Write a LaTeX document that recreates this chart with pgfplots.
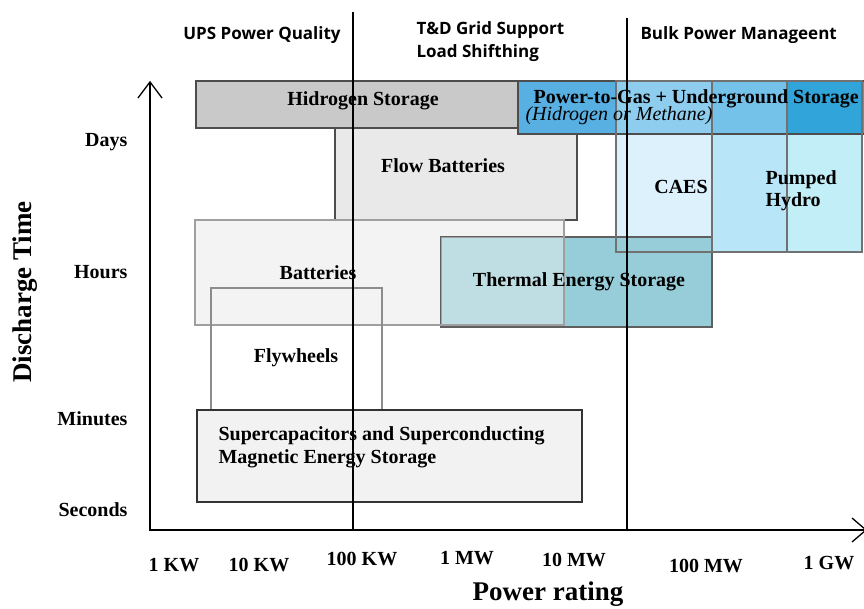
\documentclass[border=0pt]{standalone}
\usepackage{pgfplots}
\pgfplotsset{compat=1.18}
\usepackage{fontspec}
\setmainfont{Liberation Serif}
\newfontfamily\sansf{Open Sans}
\definecolor{hyd}{HTML}{C9C9C9}
\definecolor{flow}{HTML}{E9E9E9}
\definecolor{batt}{HTML}{F3F3F3}
\definecolor{therm}{HTML}{96CDD9}
\definecolor{supc}{HTML}{F2F2F2}
\definecolor{pgA}{HTML}{58AFE1}
\definecolor{pgB}{HTML}{8FCDEF}
\definecolor{pgC}{HTML}{74C1EA}
\definecolor{pgD}{HTML}{31A4D9}
\definecolor{caes}{HTML}{DDF1FC}
\definecolor{caph}{HTML}{B8E6F8}
\definecolor{phyd}{HTML}{C2EEF8}
\definecolor{edge}{HTML}{4D4D4D}
\newcommand{\lblf}{\bfseries\fontsize{20}{22}\selectfont}
\newcommand{\bigf}{\bfseries\fontsize{27}{30}\selectfont}
\newcommand{\topf}{\sansf\bfseries\fontsize{17}{22}\selectfont}
\begin{document}
\begin{tikzpicture}
\begin{axis}[width=864pt,height=609pt,scale only axis,
  xmin=0,xmax=864,ymin=0,ymax=609,y dir=reverse,hide axis,clip=true]
% background (sets the page)
\addplot[fill=white,draw=none] coordinates {(0,0) (864,0) (864,609) (0,609)} --cycle;
% Hydrogen storage
\addplot[fill=hyd,draw=edge,line width=1.2pt] coordinates {(196,81) (518,81) (518,128) (196,128)} --cycle;
% Flow batteries
\addplot[fill=flow,draw=edge,line width=1.2pt] coordinates {(335,128) (577,128) (577,220) (335,220)} --cycle;
% CAES / Pumped hydro (lower parts)
\addplot[fill=caes,draw=none] coordinates {(616,81) (712,81) (712,252) (616,252)} --cycle;
\addplot[fill=caph,draw=none] coordinates {(712,81) (787,81) (787,252) (712,252)} --cycle;
\addplot[fill=phyd,draw=none] coordinates {(787,81) (862,81) (862,252) (787,252)} --cycle;
% Batteries (fill)
\addplot[fill=batt,draw=none] coordinates {(195,220) (564,220) (564,325) (195,325)} --cycle;
% Thermal energy storage
\addplot[fill=therm,draw=edge!90,line width=1.2pt] coordinates {(441,237) (712,237) (712,327) (441,327)} --cycle;
% Batteries over thermal (translucent) and outline
\addplot[fill=batt,fill opacity=0.45,draw=none] coordinates {(441,237) (564,237) (564,325) (441,325)} --cycle;
\addplot[draw=gray!75,line width=1.2pt] coordinates {(195,220) (564,220) (564,325) (195,325)} --cycle;
% Flywheels
\addplot[draw=gray!90,line width=1.2pt] coordinates {(211,288) (382,288) (382,410) (211,410)} --cycle;
% Supercapacitors and SMES
\addplot[fill=supc,draw=black!80,line width=1.3pt] coordinates {(197,410) (582,410) (582,502) (197,502)} --cycle;
% Power-to-Gas
\addplot[fill=pgA,draw=none] coordinates {(518,81) (616,81) (616,134) (518,134)} --cycle;
\addplot[fill=pgB,draw=none] coordinates {(616,81) (712,81) (712,134) (616,134)} --cycle;
\addplot[fill=pgC,draw=none] coordinates {(712,81) (787,81) (787,134) (712,134)} --cycle;
\addplot[fill=pgD,draw=none] coordinates {(787,81) (866,81) (866,134) (787,134)} --cycle;
\addplot[draw=edge,line width=1.2pt] coordinates {(866,81) (518,81) (518,134) (866,134)};
% outlines of CAES and pumped hydro
\addplot[draw=edge!80,line width=1.1pt] coordinates {(616,81) (787,81) (787,252) (616,252)} --cycle;
\addplot[draw=edge!80,line width=1.1pt] coordinates {(712,81) (862,81) (862,252) (712,252)} --cycle;
% dividers
\addplot[black,line width=1.5pt] coordinates {(353,12) (353,530)};
\addplot[black,line width=1.5pt] coordinates {(627,18) (627,530)};
% axes
\addplot[black,line width=1.5pt] coordinates {(150,82) (150,530) (866,530)};
\addplot[black,line width=1.3pt] coordinates {(138,98) (150,82) (162,98)};
\addplot[black,line width=1.3pt] coordinates {(852,518) (866,530) (852,542)};
% box labels
\node[font=\lblf] at (axis cs:363,101) {Hidrogen Storage};
\node[font=\lblf,anchor=west] at (axis cs:530,99) {Power-to-Gas + Underground Storage};
\node[font=\fontsize{20}{22}\selectfont\itshape,anchor=west] at (axis cs:522,116) {(Hidrogen or Methane)};
\node[font=\lblf] at (axis cs:443,166) {Flow Batteries};
\node[font=\lblf] at (axis cs:681,187) {CAES};
\node[font=\lblf,anchor=west] at (axis cs:762,180) {Pumped};
\node[font=\lblf,anchor=west] at (axis cs:762,202) {Hydro};
\node[font=\lblf] at (axis cs:318,273) {Batteries};
\node[font=\lblf] at (axis cs:579,282) {Thermal Energy Storage};
\node[font=\lblf] at (axis cs:296,358) {Flywheels};
\node[font=\lblf,anchor=west] at (axis cs:215,436) {Supercapacitors and Superconducting};
\node[font=\lblf,anchor=west] at (axis cs:215,459) {Magnetic Energy Storage};
% y categories
\node[font=\lblf,anchor=east] at (axis cs:131,142) {Days};
\node[font=\lblf,anchor=east] at (axis cs:131,272) {Hours};
\node[font=\lblf,anchor=east] at (axis cs:131,419) {Minutes};
\node[font=\lblf,anchor=east] at (axis cs:131,510) {Seconds};
% x categories
\node[font=\lblf] at (axis cs:174,565) {1 KW};
\node[font=\lblf] at (axis cs:259,565) {10 KW};
\node[font=\lblf] at (axis cs:362,559) {100 KW};
\node[font=\lblf] at (axis cs:467,558) {1 MW};
\node[font=\lblf] at (axis cs:574,560) {10 MW};
\node[font=\lblf] at (axis cs:706,566) {100 MW};
\node[font=\lblf] at (axis cs:829,563) {1 GW};
% axis titles
\node[font=\bigf,rotate=90] at (axis cs:25,292) {Discharge Time};
\node[font=\bigf] at (axis cs:548,594) {Power rating};
% top region labels
\node[font=\topf] at (axis cs:262,35) {UPS Power Quality};
\node[font=\topf,anchor=west] at (axis cs:413,30) {T\&D Grid Support};
\node[font=\topf,anchor=west] at (axis cs:413,53) {Load Shifthing};
\node[font=\topf,anchor=west] at (axis cs:637,35) {Bulk Power Manageent};
\end{axis}
\end{tikzpicture}
\end{document}
